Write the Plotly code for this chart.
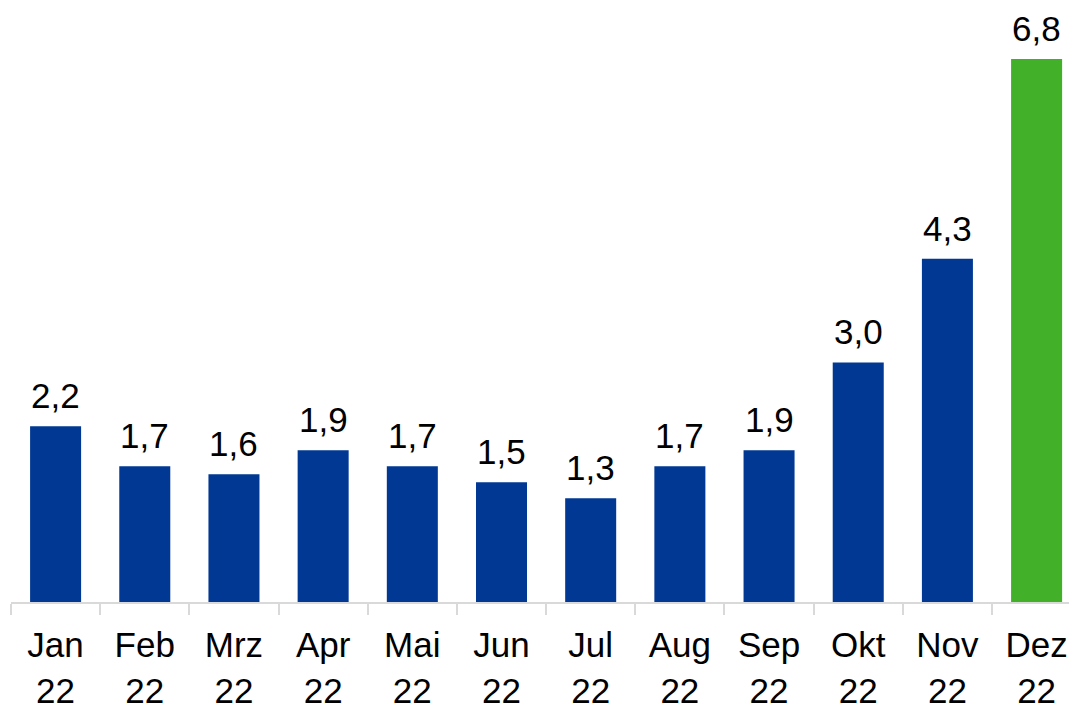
import plotly.graph_objects as go

months = ["Jan<br>22", "Feb<br>22", "Mrz<br>22", "Apr<br>22", "Mai<br>22", "Jun<br>22",
          "Jul<br>22", "Aug<br>22", "Sep<br>22", "Okt<br>22", "Nov<br>22", "Dez<br>22"]
values = [2.2, 1.7, 1.6, 1.9, 1.7, 1.5, 1.3, 1.7, 1.9, 3.0, 4.3, 6.8]
colors = ["#003893"] * 11 + ["#43B02A"]

FONT = "Liberation Sans, Arial, sans-serif"
FS = 35

fig = go.Figure(go.Bar(
    x=months, y=values, marker_color=colors, width=0.572,
    marker_line_width=0,
))

for m, v in zip(months, values):
    fig.add_annotation(x=m, y=v, text=f"{v:.1f}".replace(".", ","), showarrow=False,
                       yanchor="bottom", yshift=9,
                       font=dict(family=FONT, size=FS, color="#000000"))

fig.update_layout(
    width=1069, height=697,
    margin=dict(l=3, r=0, t=0, b=103),
    plot_bgcolor="white", paper_bgcolor="white",
    showlegend=False,
    font=dict(family=FONT, size=FS, color="#000000"),
    xaxis=dict(
        type="category", automargin=False,
        range=[-0.5, 11.453], showgrid=False, zeroline=False,
        showline=True, linecolor="#d9d9d9", linewidth=2,
        ticks="outside", ticklen=11, tickcolor="#d9d9d9", tickwidth=2,
        tickson="boundaries", ticklabelstandoff=11,
        tickfont=dict(family=FONT, size=FS, color="#000000"),
    ),
    yaxis=dict(range=[0, 7.44], visible=False, showgrid=False, zeroline=False,
               automargin=False),
)

fig.write_html("out.html")
